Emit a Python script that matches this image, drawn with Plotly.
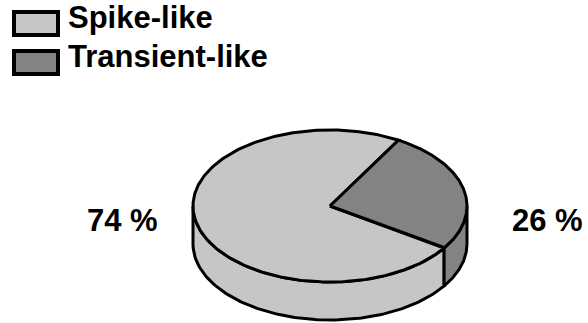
import numpy as np
import plotly.graph_objects as go

# Data
categories = ["Spike-like", "Transient-like"]
values = [74, 26]
colors = ["#c6c6c6", "#838383"]

# Geometry of the drawn cylinder (pixel space, y pointing down)
W, H = 588, 323
CX, CY = 330, 206
RX, RY = 137, 76
DEPTH = 38
START_DEG = 60.0  # slices run counter-clockwise from here
LINE = dict(color="black", width=3)


def ellipse_pts(a0, a1, dy=0.0, n=120):
    t = np.radians(np.linspace(a0, a1, n))
    return CX + RX * np.cos(t), CY + dy - RY * np.sin(t)


fig = go.Figure()

total = float(sum(values))
spans = []
cursor = START_DEG
for v in values:
    span = 360.0 * v / total
    spans.append((cursor, cursor + span))
    cursor += span

# Side walls: only the front half (180..360 deg) is visible
for (a0, a1), col, name in zip(spans, colors, categories):
    for k in (0, 1):
        lo = max(a0, 180 + 360 * k)
        hi = min(a1, 360 + 360 * k)
        if hi <= lo:
            continue
        xt, yt = ellipse_pts(lo, hi)
        xb, yb = ellipse_pts(hi, lo, dy=DEPTH)
        xs = np.concatenate([xt, xb, xt[:1]])
        ys = np.concatenate([yt, yb, yt[:1]])
        fig.add_trace(go.Scatter(x=xs, y=ys, mode="lines", fill="toself",
                                 fillcolor=col, line=LINE, showlegend=False,
                                 hoverinfo="skip"))

# Top face wedges
for (a0, a1), col, name, v in zip(spans, colors, categories, values):
    xa, ya = ellipse_pts(a0, a1, n=240)
    xs = np.concatenate([[CX], xa, [CX]])
    ys = np.concatenate([[CY], ya, [CY]])
    fig.add_trace(go.Scatter(x=xs, y=ys, mode="lines", fill="toself",
                             fillcolor=col, line=LINE, name=name,
                             showlegend=False, hoverinfo="text",
                             text=f"{name}: {v} %"))

# Percentage labels
label_pos = [(122, 220), (547, 220)]
for v, (lx, ly) in zip(values, label_pos):
    fig.add_annotation(x=lx, y=ly, text=f"{v} %", showarrow=False,
                       xanchor="center", yanchor="middle",
                       font=dict(family="Liberation Sans", size=31,
                                 color="black", weight="bold"))

# Legend drawn as boxes with labels
leg_y = [23.5, 62.5]
for name, col, yc in zip(categories, colors, leg_y):
    fig.add_shape(type="rect", x0=14, x1=58, y0=yc - 11.5, y1=yc + 11.5,
                  fillcolor=col, line=dict(color="black", width=4))
    fig.add_annotation(x=66, y=yc - 6, text=name, showarrow=False,
                       xanchor="left", yanchor="middle",
                       font=dict(family="Liberation Sans", size=31,
                                 color="black", weight="bold"))

fig.update_xaxes(range=[0, W], visible=False, fixedrange=True)
fig.update_yaxes(range=[H, 0], visible=False, fixedrange=True)
fig.update_layout(width=W, height=H, margin=dict(l=0, r=0, t=0, b=0),
                  paper_bgcolor="white", plot_bgcolor="white",
                  showlegend=False)

fig.write_html("out.html")
